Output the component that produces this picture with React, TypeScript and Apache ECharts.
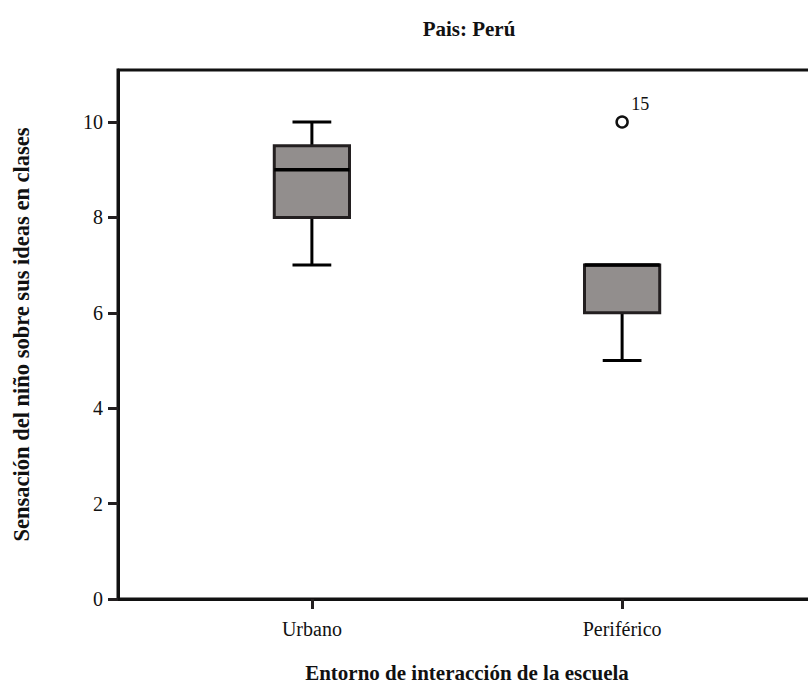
import React, { useEffect, useRef } from "react";
import * as echarts from "echarts";

const categories = ["Urbano", "Periférico"];
const categorySlots = [2, 6];
const slotCount = 9;
// [min, Q1, median, Q3, max]
const boxValues = [
  [7, 8, 9, 9.5, 10],
  [5, 6, 7, 7, 7],
];
const outlierValues = [[6, 10]];
const outlierLabels = ["15"];
const yTicks = [0, 2, 4, 6, 8, 10];

const FONT = "Liberation Serif";
const CHART_W = 830;

export default function App() {
  const ref = useRef<HTMLDivElement>(null);
  useEffect(() => {
    const chart = echarts.init(ref.current!, null, { renderer: "svg" });
    const axisData: string[] = Array.from({ length: slotCount }, () => "");
    categorySlots.forEach((s, i) => (axisData[s] = categories[i]));
    const boxData = boxValues.map((v, i) => [categorySlots[i], ...v]);

    chart.setOption({
      animation: false,
      backgroundColor: "#fff",
      title: {
        text: "Pais: Perú",
        left: 464,
        top: 13,
        textAlign: "center",
        textStyle: { fontFamily: FONT, fontSize: 21, fontWeight: "bold", color: "#111" },
      },
      grid: {
        left: 118,
        top: 70,
        bottom: 86,
        right: CHART_W - 816,
        outerBoundsMode: "none",
        containLabel: false,
        show: true,
        borderColor: "#111",
        borderWidth: 3,
        backgroundColor: "transparent",
      },
      xAxis: {
        type: "category",
        data: axisData,
        boundaryGap: true,
        name: "Entorno de interacción de la escuela",
        nameLocation: "middle",
        nameGap: 63,
        nameTextStyle: { fontFamily: FONT, fontSize: 21, fontWeight: "bold", color: "#111", verticalAlign: "top" },
        axisLine: { lineStyle: { color: "#111", width: 3 } },
        axisTick: {
          show: true,
          alignWithLabel: true,
          interval: (_i: number, v: string) => v !== "",
          length: 10,
          lineStyle: { color: "#231f20", width: 3 },
        },
        axisLabel: {
          interval: 0,
          margin: 20,
          fontFamily: FONT,
          fontSize: 20,
          color: "#111",
        },
        splitLine: { show: false },
      },
      yAxis: {
        type: "value",
        min: 0,
        max: 11.09,
        interval: 2,
        name: "Sensación del niño sobre sus ideas en clases",
        nameLocation: "middle",
        nameGap: 85,
        nameTextStyle: { fontFamily: FONT, fontSize: 22.5, fontWeight: "bold", color: "#111" },
        axisLine: { show: true, lineStyle: { color: "#111", width: 3 } },
        axisTick: {
          show: true,
          length: 10,
          customValues: yTicks,
          lineStyle: { color: "#231f20", width: 3 },
        },
        axisLabel: {
          customValues: yTicks,
          margin: 15,
          fontFamily: FONT,
          fontSize: 20,
          color: "#111",
        },
        splitLine: { show: false },
      },
      series: [
        {
          type: "custom",
          data: boxData,
          renderItem: (params: any, api: any) => {
            const x = api.value(0);
            const bw = api.size([1, 0])[0];
            const boxW = bw * 0.97;
            const capW = bw * 0.5;
            const pMin = api.coord([x, api.value(1)]);
            const pQ1 = api.coord([x, api.value(2)]);
            const pMed = api.coord([x, api.value(3)]);
            const pQ3 = api.coord([x, api.value(4)]);
            const pMax = api.coord([x, api.value(5)]);
            const cx = pMin[0];
            const lineStyle = { stroke: "#000", lineWidth: 3 };
            const children: any[] = [
              { type: "line", shape: { x1: cx, y1: pQ1[1], x2: cx, y2: pMin[1] }, style: lineStyle },
              { type: "line", shape: { x1: cx - capW / 2, y1: pMin[1], x2: cx + capW / 2, y2: pMin[1] }, style: lineStyle },
            ];
            if (pMax[1] < pQ3[1] - 0.5) {
              children.push(
                { type: "line", shape: { x1: cx, y1: pQ3[1], x2: cx, y2: pMax[1] }, style: lineStyle },
                { type: "line", shape: { x1: cx - capW / 2, y1: pMax[1], x2: cx + capW / 2, y2: pMax[1] }, style: lineStyle }
              );
            }
            children.push(
              {
                type: "rect",
                shape: { x: cx - boxW / 2, y: pQ3[1], width: boxW, height: pQ1[1] - pQ3[1] },
                style: { fill: "#928e8d", stroke: "#231f20", lineWidth: 3 },
              },
              {
                type: "line",
                shape: { x1: cx - boxW / 2, y1: pMed[1], x2: cx + boxW / 2, y2: pMed[1] },
                style: { stroke: "#000", lineWidth: 3.5 },
              }
            );
            return { type: "group", children };
          },
          z: 3,
        },
        {
          type: "scatter",
          data: outlierValues,
          symbol: "circle",
          symbolSize: 11,
          itemStyle: { color: "#fff", borderColor: "#111", borderWidth: 2.5, opacity: 1 },
          label: {
            show: true,
            formatter: (p: any) => outlierLabels[p.dataIndex],
            position: [16, -11],
            align: "left",
            verticalAlign: "middle",
            fontFamily: FONT,
            fontSize: 18,
            color: "#111",
          },
          emphasis: { disabled: true },
          z: 4,
        },
      ],
    });
    return () => chart.dispose();
  }, []);
  return (
    <div style={{ position: "absolute", left: 0, top: 0, width: 808, height: 685, overflow: "hidden", background: "#fff" }}>
      <div ref={ref} style={{ width: CHART_W, height: 685 }} />
    </div>
  );
}
